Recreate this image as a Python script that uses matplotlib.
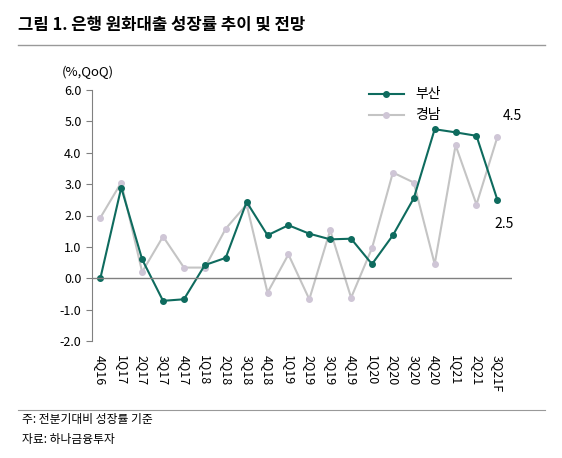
import matplotlib
matplotlib.use("Agg")
import matplotlib.pyplot as plt
import numpy as np

plt.rcParams['font.family'] = ['Noto Sans CJK KR', 'DejaVu Sans']

quarters = ['4Q16','1Q17','2Q17','3Q17','4Q17','1Q18','2Q18','3Q18','4Q18','1Q19',
            '2Q19','3Q19','4Q19','1Q20','2Q20','3Q20','4Q20','1Q21','2Q21','3Q21F']
busan = [0.0,2.89,0.6,-0.72,-0.67,0.42,0.65,2.43,1.37,1.69,1.42,1.24,1.26,0.45,1.37,2.55,4.75,4.65,4.54,2.5]
gyeongnam = [1.93,3.05,0.2,1.33,0.34,0.34,1.58,2.35,-0.46,0.76,-0.67,1.53,-0.62,0.96,3.37,3.05,0.45,4.24,2.35,4.5]

fig = plt.figure(figsize=(5.62,4.58), dpi=100)
ax = fig.add_axes([92/562, 1-341/458, 420/562, 251/458])
x = np.arange(len(quarters))
ax.plot(x, gyeongnam, color='#c4c4c4', lw=1.5, marker='o', ms=4, mfc='#cfc6d6', mec='#cfc6d6', label='경남')
ax.plot(x, busan, color='#0e6b5e', lw=1.5, marker='o', ms=4, mfc='#0e6b5e', mec='#0e6b5e', label='부산')
h, l = ax.get_legend_handles_labels()
ax.legend(h[::-1], l[::-1], loc='upper left', bbox_to_anchor=(0.63, 1.06), frameon=False, fontsize=10, handlelength=2.5)
ax.set_ylim(-2, 6)
ax.set_xlim(-0.4, len(quarters)-0.3)
ax.set_yticks(np.arange(-2, 6.1, 1))
ax.set_yticklabels([f'{v:.1f}' for v in np.arange(-2, 6.1, 1)], fontsize=9)
ax.set_xticks(x)
ax.set_xticklabels(quarters, rotation=-90, fontsize=9)
ax.tick_params(axis='x', length=0, pad=10)
ax.tick_params(axis='y', length=4, color='#808080')
for s in ['top','right','bottom']:
    ax.spines[s].set_visible(False)
ax.spines['left'].set_color('#808080')
ax.axhline(0, color='#808080', lw=1)
ax.annotate('4.5', (x[-1], gyeongnam[-1]), xytext=(4, 12), textcoords='offset points', fontsize=10)
ax.annotate('2.5', (x[-1], busan[-1]), xytext=(-2, -20), textcoords='offset points', fontsize=10)
fig.text(62/562, 1-76/458, '(%,QoQ)', fontsize=9.5)
fig.text(18/562, 1-25/458, '그림 1. 은행 원화대출 성장률 추이 및 전망', fontsize=12, fontweight='bold', va='center')
fig.add_artist(plt.Line2D([18/562, 545/562], [1-45/458]*2, color='#999999', lw=1))
fig.add_artist(plt.Line2D([18/562, 545/562], [1-410/458]*2, color='#999999', lw=0.8))
fig.text(22/562, 1-420/458, '주: 전분기대비 성장률 기준', fontsize=8.5, va='center')
fig.text(22/562, 1-439/458, '자료: 하나금융투자', fontsize=8.5, va='center')
fig.savefig('out.png', dpi=100)
